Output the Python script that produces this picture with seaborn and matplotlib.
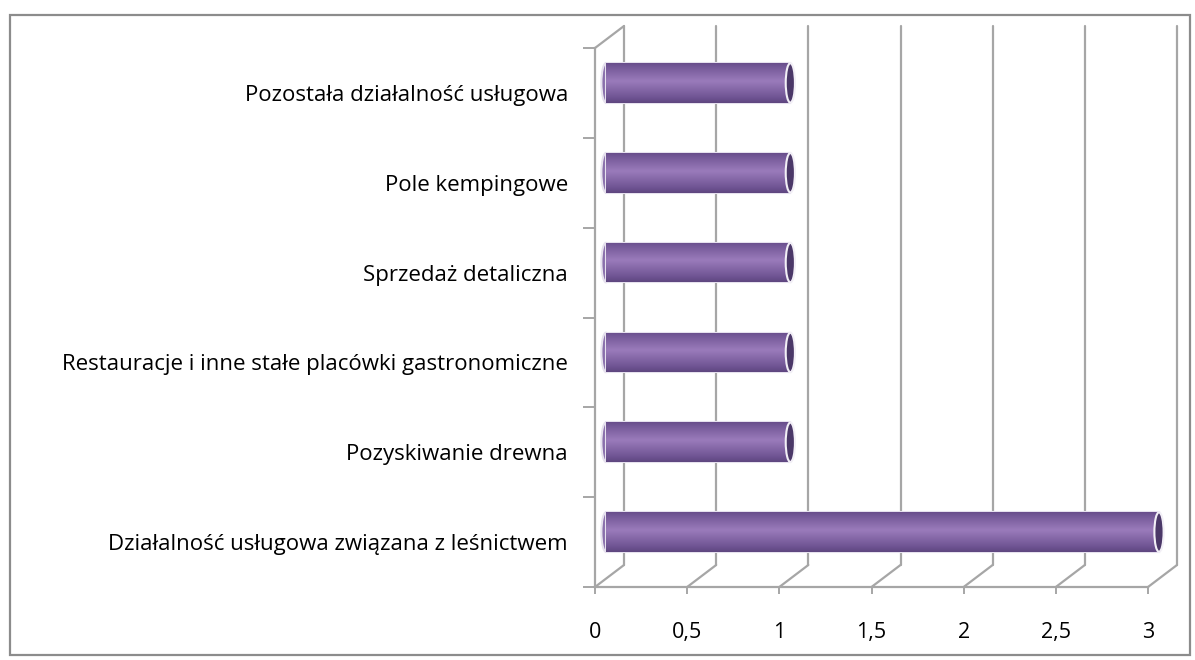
import numpy as np
import matplotlib
matplotlib.use("Agg")
import matplotlib.pyplot as plt
import seaborn as sns
from matplotlib.transforms import ScaledTranslation
from matplotlib.patches import Ellipse, Rectangle

categories = [
    "Pozostała działalność usługowa",
    "Pole kempingowe",
    "Sprzedaż detaliczna",
    "Restauracje i inne stałe placówki gastronomiczne",
    "Pozyskiwanie drewna",
    "Działalność usługowa związana z leśnictwem",
]
values = [1, 1, 1, 1, 1, 3]
xticks = [0, 0.5, 1, 1.5, 2, 2.5, 3]
xticklabels = ["0", "0,5", "1", "1,5", "2", "2,5", "3"]

sns.set_theme(style="white")
plt.rcParams["font.family"] = ["Open Sans", "DejaVu Sans"]

DPI = 100
fig = plt.figure(figsize=(11.95, 6.6), dpi=DPI)
ax = fig.add_axes([595 / 1195, 73 / 660, 553 / 1195, 539 / 660])

sns.barplot(x=values, y=categories, orient="h", color="#8064A2", width=0.44,
            ax=ax, linewidth=0, saturation=1)

ax.set_xlim(0, 3)
ax.set_ylim(len(categories) - 0.5, -0.5)

grid_c = "#A6A6A6"
back = ScaledTranslation(0.29, 0.22, fig.dpi_scale_trans)
mid = ScaledTranslation(0.11, 0.10, fig.dpi_scale_trans)
ylo, yhi = len(categories) - 0.5, -0.5

# back-wall gridlines and floor diagonals
for x in xticks:
    ax.plot([x, x], [ylo, yhi], color=grid_c, lw=1.6, transform=ax.transData + back,
            clip_on=False, zorder=0)
    ax.annotate("", xy=(x, ylo), xycoords="data", xytext=(29, 22), textcoords="offset pixels",
                arrowprops=dict(arrowstyle="-", color=grid_c, lw=1.6, shrinkA=0, shrinkB=0),
                annotation_clip=False, zorder=0)
# left wall top diagonal
ax.annotate("", xy=(0, yhi), xycoords="data", xytext=(29, 22), textcoords="offset pixels",
            arrowprops=dict(arrowstyle="-", color=grid_c, lw=1.6, shrinkA=0, shrinkB=0),
            annotation_clip=False, zorder=0)

# cylinder-look bars
grad = np.linspace(0, 1, 256)
shade = np.interp(grad, [0, 0.12, 0.45, 0.85, 1.0], [0.45, 0.62, 1.0, 0.55, 0.35])
cmap = matplotlib.colors.LinearSegmentedColormap.from_list(
    "cyl", ["#3F2D57", "#6C5190", "#9A7BBB"])
img = cmap(shade)[:, None, :]
for p in list(ax.patches):
    x0, y0, w, h = p.get_x(), p.get_y(), p.get_width(), p.get_height()
    p.set_transform(ax.transData + mid)
    p.set_facecolor("#8064A2")
    p.set_edgecolor("#E6E1EE")
    p.set_linewidth(1.5)
    p.set_zorder(3)
    p.set_clip_on(False)
    im = ax.imshow(img, extent=(x0, x0 + w, y0 + h, y0), aspect="auto",
                   transform=ax.transData + mid, zorder=3.5, interpolation="bilinear")
    im.set_clip_path(p)
    ew = 0.05
    cap = Ellipse((x0 + w, y0 + h / 2), ew, h, facecolor="#4B3868", edgecolor="#F2EFF6",
                  lw=1.5, transform=ax.transData + mid, zorder=4, clip_on=False)
    ax.add_patch(cap)
    lcap = Ellipse((x0, y0 + h / 2), ew, h, facecolor="#8A70AC", edgecolor="#E6E1EE",
                   lw=1.5, transform=ax.transData + mid, zorder=2.5, clip_on=False)
    ax.add_patch(lcap)
ax.set_xlim(0, 3)
ax.set_ylim(ylo, yhi)

# spines
for s in ["top", "right"]:
    ax.spines[s].set_visible(False)
for s in ["left", "bottom"]:
    ax.spines[s].set_color(grid_c)
    ax.spines[s].set_linewidth(1.6)

ax.set_xticks(xticks)
ax.set_xticklabels(xticklabels)
ax.set_yticks(range(len(categories)))
ax.set_yticklabels(categories)
ax.set_yticks(np.arange(-0.5, len(categories), 1), minor=True)
ax.tick_params(axis="y", which="major", length=0, pad=19.5, labelsize=16, colors="black")
ax.tick_params(axis="y", which="minor", length=9, width=1.4, color=grid_c, left=True)
ax.tick_params(axis="x", length=5, width=1.4, color=grid_c, pad=20.5, labelsize=15.5,
               bottom=True)
for t in ax.get_xticklabels():
    t.set_color("black")
ax.set_xlabel("")
ax.set_ylabel("")

fig.add_artist(Rectangle((10 / 1195, 5 / 660), 1180 / 1195, 640 / 660, transform=fig.transFigure,
                         fill=False, edgecolor="#8C8C8C", lw=1.6))

fig.savefig("out.png", dpi=DPI)
